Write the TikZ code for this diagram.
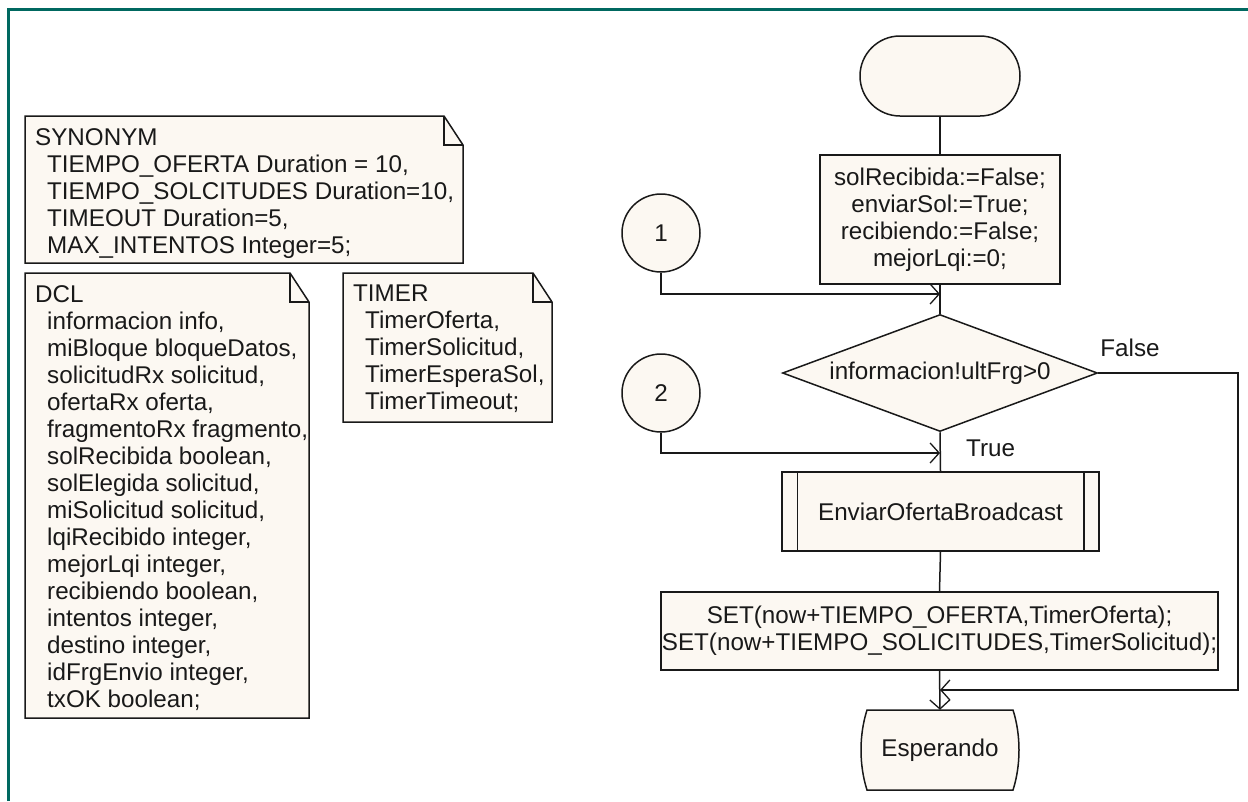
\documentclass[tikz,border=0pt]{standalone}
\usepackage{fontspec}
\setmainfont{Liberation Sans}
\usetikzlibrary{arrows.meta,shapes.geometric,shapes.misc}
\definecolor{framegreen}{RGB}{0,104,96}
\definecolor{paper}{RGB}{252,248,242}
\definecolor{ink}{RGB}{25,25,25}
\newcommand{\notesheet}[4]{% left, top, right, bottom, with a folded top-right corner
  \filldraw[outline] (#1,#2) -- ({#3-19},#2) -- (#3,{#2+29}) -- (#3,#4) -- (#1,#4) -- cycle;
  \draw[link] ({#3-19},#2) -- ({#3-19},{#2+29}) -- (#3,{#2+29});
}
\begin{document}
\begin{tikzpicture}[x=1pt,y=-1pt,
  outline/.style={draw=ink, line width=1.5pt, fill=paper},
  link/.style={draw=ink, line width=1.5pt},
  txt/.style={font=\fontsize{24.2}{27}\selectfont, text=ink, inner sep=0pt},
  barb/.style={-{Straight Barb[length=9pt,width=20pt,line width=1.3pt]}},
  box/.style={outline, txt, rectangle, align=center},
]
\useasboundingbox (0,0) rectangle (1248,801);
\fill[white] (0,0) rectangle (1248,801);
\draw[framegreen, line width=3pt] (8,801) -- (8,9) -- (1248,9);

% declaration notes
\notesheet{25}{116}{463}{263}
\node[txt, anchor=north west, align=left] (syn) at (35,128.5) {SYNONYM\\
  \hspace*{12pt}TIEMPO\_OFERTA Duration = 10,\\
  \hspace*{12pt}TIEMPO\_SOLCITUDES Duration=10,\\
  \hspace*{12pt}TIMEOUT Duration=5,\\
  \hspace*{12pt}MAX\_INTENTOS Integer=5;};

\notesheet{25}{273}{309}{718}
\node[txt, anchor=north west, align=left] (dcl) at (35,285) {DCL\\
  \hspace*{12pt}informacion info,\\
  \hspace*{12pt}miBloque bloqueDatos,\\
  \hspace*{12pt}solicitudRx solicitud,\\
  \hspace*{12pt}ofertaRx oferta,\\
  \hspace*{12pt}fragmentoRx fragmento,\\
  \hspace*{12pt}solRecibida boolean,\\
  \hspace*{12pt}solElegida solicitud,\\
  \hspace*{12pt}miSolicitud solicitud,\\
  \hspace*{12pt}lqiRecibido integer,\\
  \hspace*{12pt}mejorLqi integer,\\
  \hspace*{12pt}recibiendo boolean,\\
  \hspace*{12pt}intentos integer,\\
  \hspace*{12pt}destino integer,\\
  \hspace*{12pt}idFrgEnvio integer,\\
  \hspace*{12pt}txOK boolean;};

\notesheet{343}{273}{552}{422}
\node[txt, anchor=north west, align=left] (tmr) at (353,285) {TIMER\\
  \hspace*{12pt}TimerOferta,\\
  \hspace*{12pt}TimerSolicitud,\\
  \hspace*{12pt}TimerEsperaSol,\\
  \hspace*{12pt}TimerTimeout;};

% process flow
\node[outline, rounded rectangle, minimum width=160, minimum height=80, inner sep=0pt] (start) at (940,76) {};
\node[box, minimum width=240, minimum height=129] (act) at (940,219.5)
  {solRecibida:=False;\\enviarSol:=True;\\recibiendo:=False;\\mejorLqi:=0;};
\node[outline, txt, circle, minimum size=78] (c1) at (661,233) {1};
\node[outline, txt, circle, minimum size=78] (c2) at (661,393) {2};
\node[outline, txt, diamond, aspect=2.69, minimum width=315, minimum height=117] (dec) at (940,373) {informacion!ultFrg>0};
\node[box, minimum width=317, minimum height=79] (proc) at (940.5,511.5) {EnviarOfertaBroadcast};
\draw[link] ([xshift=16pt]proc.north west) -- ([xshift=16pt]proc.south west);
\draw[link] ([xshift=-16pt]proc.north east) -- ([xshift=-16pt]proc.south east);
\node[box, minimum width=557, minimum height=78] (set) at (939.5,631)
  {SET(now+TIEMPO\_OFERTA,TimerOferta);\\SET(now+TIEMPO\_SOLICITUDES,TimerSolicitud);};
\filldraw[outline] (867,710) -- (1013,710) .. controls (1021,735) and (1021,765) .. (1013,790)
  -- (867,790) .. controls (859,765) and (859,735) .. (867,710) -- cycle;
\node[txt, minimum width=150, minimum height=80] (wait) at (940,750) {Esperando};

\node[txt, anchor=center] (lfalse) at (1130,348) {False};
\node[txt, anchor=west] (ltrue) at (966,448) {True};

\coordinate (j1) at (940,294);
\coordinate (j2) at (940,453);
\coordinate (j3) at (940,690);
\coordinate (f1) at (1238,373);
\coordinate (f2) at (1238,690);

\draw[link] (start.south) -- (act.north);
\draw[link] (act.south) -- (dec.north);
\draw[link, barb] (c1.south) |- (j1);
\draw[link, barb] (c2.south) |- (j2);
\draw[link] (dec.south) -- (proc.north);
\draw[link] (proc.south) -- (set.north);
\draw[link, barb] (set.south) -- (wait.north);
\draw[link, barb] (dec.east) -- (f1) -- (f2) -- (j3);
\end{tikzpicture}
\end{document}
